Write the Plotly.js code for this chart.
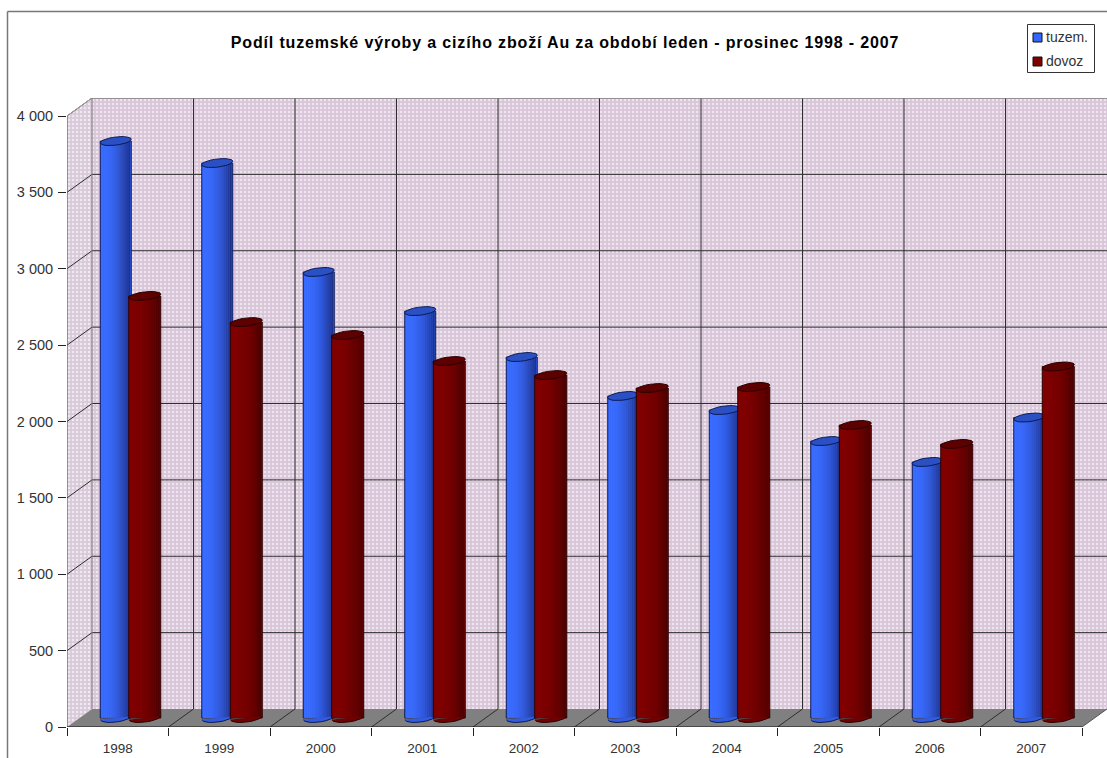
<!DOCTYPE html>
<html><head><meta charset="utf-8">
<script src="https://cdn.plot.ly/plotly-3.0.1.min.js"></script>
<style>html,body{margin:0;padding:0;background:#fff}#c{width:1107px;height:758px}.gtitle{letter-spacing:.85px}</style>
</head><body><div id="c"></div>
<script>
const years = [1998,1999,2000,2001,2002,2003,2004,2005,2006,2007];
const tuzem = [3777,3633,2920,2664,2363,2108,2016,1813,1676,1967];
const dovoz = [2763,2592,2507,2337,2245,2160,2167,1918,1794,2301];
const yTicks = [0,500,1000,1500,2000,2500,3000,3500,4000];
const yTickText = ['0','500','1 000','1 500','2 000','2 500','3 000','3 500','4 000'];
const titleText = 'Podíl tuzemské výroby a cizího zboží Au za období leden - prosinec 1998 - 2007';

// plot geometry (px)
const W=1107,H=758,L=67,T=98,R=1107,B=727,catPx=101.5,depthX=25,depthY=18;
const pyPerUnit=(B-116)/4000;
const dx=depthX/catPx, dy=depthY/pyPerUnit;
const x0=years[0]-0.5, x1=years[years.length-1]+0.5;
const xr=[x0,x1+dx], yr=[0,4000+dy];
const px2x=p=>p/catPx, px2y=p=>p/pyPerUnit;
const base=dy/2;
const boundaries=[...years.map(y=>y-0.5),x1];

const line=(xs,ys,color,w)=>({type:'scatter',mode:'lines',x:xs,y:ys,line:{color,width:w},hoverinfo:'skip',showlegend:false,cliponaxis:false,connectgaps:false});
const traces=[];
// left wall, back wall, floor
traces.push({type:'scatter',mode:'lines',x:[x0,x0+dx,x0+dx,x0,x0],y:[0,dy,4000+dy,4000,0],fill:'toself',
 fillcolor:'#dcd4dc',fillpattern:{shape:'.',size:4,solidity:0.3,fgcolor:'#f0ebf0',bgcolor:'#d9c9d9',fillmode:'replace'},line:{width:0},hoverinfo:'skip',showlegend:false});
traces.push({type:'scatter',mode:'lines',x:[x0+dx,x1+dx,x1+dx,x0+dx,x0+dx],y:[dy,dy,4000+dy,4000+dy,dy],fill:'toself',
 fillcolor:'#e2d5e2',fillpattern:{shape:'.',size:4,solidity:0.3,fgcolor:'#eee8ee',bgcolor:'#d9c5d9',fillmode:'replace'},line:{width:0},hoverinfo:'skip',showlegend:false});
traces.push({type:'scatter',mode:'lines',x:[x0,x1,x1+dx,x0+dx,x0],y:[0,0,dy,dy,0],fill:'toself',fillcolor:'#808080',line:{width:0},hoverinfo:'skip',showlegend:false});
// gridlines
let gx=[],gy=[];
yTicks.slice(1).forEach(v=>{gx.push(x0,x0+dx,x1+dx,null);gy.push(v,v+dy,v+dy,null);});
boundaries.slice(1,-1).forEach(b=>{gx.push(b,b+dx,b+dx,null);gy.push(0,dy,4000+dy,null);});
traces.push(line(gx,gy,'#2e2e2e',1));
// light wall outline
traces.push(line([x0,x0+dx,x1+dx],[4000,4000+dy,4000+dy],'#a8a8a8',1));
traces.push(line([x0+dx,x0+dx],[dy,4000+dy],'#777777',1));
traces.push(line([x0,x0,null,x1,x1+dx],[0,4000,null,0,dy],'#555555',1));
traces.push(line([x0,x1],[0,0],'#111111',1.2));

function lerp(a,b,t){return 'rgb('+a.map((v,i)=>Math.round(v+(b[i]-v)*t)).join(',')+')';}
function series(name,vals,axN,leftPx,widthPx,c0,c1,outline,topFill,swatch){
  const xa='x'+axN, ya='y'+axN, off=px2x(leftPx), w=px2x(widthPx);
  traces.push({type:'bar',name,x:years,y:vals,base:years.map(()=>base),offset:off,width:w,xaxis:xa,yaxis:ya,
    marker:{color:swatch,line:{color:outline,width:1}},hoverinfo:'x+name',showlegend:false});
  const N=14, ins=px2x(1);
  for(let i=0;i<N;i++){
    const t=i/(N-1);
    traces.push({type:'bar',x:years,y:vals,base:years.map(()=>base),offset:off+ins+i*(w-2*ins)/N,width:(w-2*ins)/N,xaxis:xa,yaxis:ya,
      marker:{color:lerp(c0,c1,t*t),line:{width:0}},hoverinfo:'skip',showlegend:false});
  }
  const cx=off+w/2, a=widthPx/2;
  const ex=[],ey=[],bx=[],by=[];
  years.forEach((yr,k)=>{
    const v=vals[k]+base;
    for(let d=0;d<=360;d+=15){
      const r=d*Math.PI/180;
      const px=a*Math.cos(r)+1.2*Math.sin(r), py=1.5*Math.cos(r)+4.2*Math.sin(r);
      ex.push(yr+cx+px2x(px)); ey.push(v+px2y(py));
    }
    ex.push(null);ey.push(null);
    for(let d=180;d<=360;d+=15){
      const r=d*Math.PI/180;
      const px=(a-0.5)*Math.cos(r)+1.2*Math.sin(r), py=1.5*Math.cos(r)+4.2*Math.sin(r);
      bx.push(yr+cx+px2x(px)); by.push(base+px2y(py));
    }
    bx.push(null);by.push(null);
  });
  traces.push({type:'scatter',mode:'lines',x:bx,y:by,xaxis:xa,yaxis:ya,fill:'toself',fillcolor:lerp(c0,c1,0.3),line:{color:outline,width:1},hoverinfo:'skip',showlegend:false,cliponaxis:false});
  traces.push({type:'scatter',mode:'lines',x:ex,y:ey,xaxis:xa,yaxis:ya,fill:'toself',fillcolor:topFill,line:{color:outline,width:1},hoverinfo:'skip',showlegend:false,cliponaxis:false});
}
series('tuzem.',tuzem,2,-17.5,31,[58,108,255],[30,50,140],'#0c1a55','#2a50c4','#3366ff');
series('dovoz',dovoz,3,11,32,[128,0,0],[78,0,0],'#2a0000','#5c0000','#800000');

const hidden=o=>Object.assign({visible:false,fixedrange:true},o);
const pw=R-L, ph=B-T;
const px=p=>(p-L)/pw, py=p=>(B-p)/ph;
const rect=(a,b,c,d,fill,lc)=>({type:'rect',xref:'paper',yref:'paper',x0:px(a),x1:px(b),y0:py(c),y1:py(d),fillcolor:fill,line:{color:lc,width:1},layer:'above'});
const legendLabel=(t,y)=>({xref:'paper',yref:'paper',x:px(1046),y:py(y),xanchor:'left',yanchor:'middle',text:t,showarrow:false,font:{size:14,color:'#333'},xshift:-2});
const layout={
 width:W,height:H,paper_bgcolor:'#fff',plot_bgcolor:'#fff',barmode:'overlay',showlegend:false,
 margin:{l:L,r:W-R,t:T,b:H-B,pad:0},
 font:{family:'Liberation Sans, Arial, sans-serif',size:13,color:'#333'},
 title:{text:'<b>'+titleText+'</b>',x:565/W,xanchor:'center',xref:'container',y:1-42/H,yanchor:'middle',yref:'container',font:{size:16,color:'#000'}},
 xaxis:{range:xr,tickmode:'array',tickvals:years,ticktext:years.map(String),ticks:'outside',ticklen:9,tickcolor:'rgba(0,0,0,0)',showgrid:false,zeroline:false,showline:false,fixedrange:true,
   tickfont:{size:13.5,color:'#333'},minor:{tickmode:'array',tickvals:boundaries,ticks:'outside',ticklen:8,tickcolor:'#222',showgrid:false}},
 yaxis:{range:yr,tickmode:'array',tickvals:yTicks,ticktext:yTickText,ticks:'outside',ticklen:8,tickcolor:'#222',ticklabelstandoff:2,showgrid:false,zeroline:false,showline:false,fixedrange:true,tickfont:{size:14.5,color:'#333'}},
 xaxis2:hidden({range:xr,overlaying:'x'}),yaxis2:hidden({range:yr,overlaying:'y'}),
 xaxis3:hidden({range:xr,overlaying:'x'}),yaxis3:hidden({range:yr,overlaying:'y'}),
 annotations:[legendLabel('tuzem.',37),legendLabel('dovoz',61)],
 shapes:[
  {type:'line',xref:'paper',yref:'paper',x0:px(7.5),x1:px(7.5),y0:py(11.5),y1:py(758),line:{color:'#777',width:1.5},layer:'below'},
  {type:'line',xref:'paper',yref:'paper',x0:px(7.5),x1:px(1107),y0:py(11.5),y1:py(11.5),line:{color:'#777',width:1.5},layer:'below'},
  rect(1027.5,1094.5,24.5,72.5,'rgba(255,255,255,0)','#333'),
  rect(1033,1042,33,42,'#3366ff','#111'),
  rect(1033,1042,57,66,'#800000','#111')
 ]
};
Plotly.newPlot('c',traces,layout,{displayModeBar:false});
</script></body></html>
